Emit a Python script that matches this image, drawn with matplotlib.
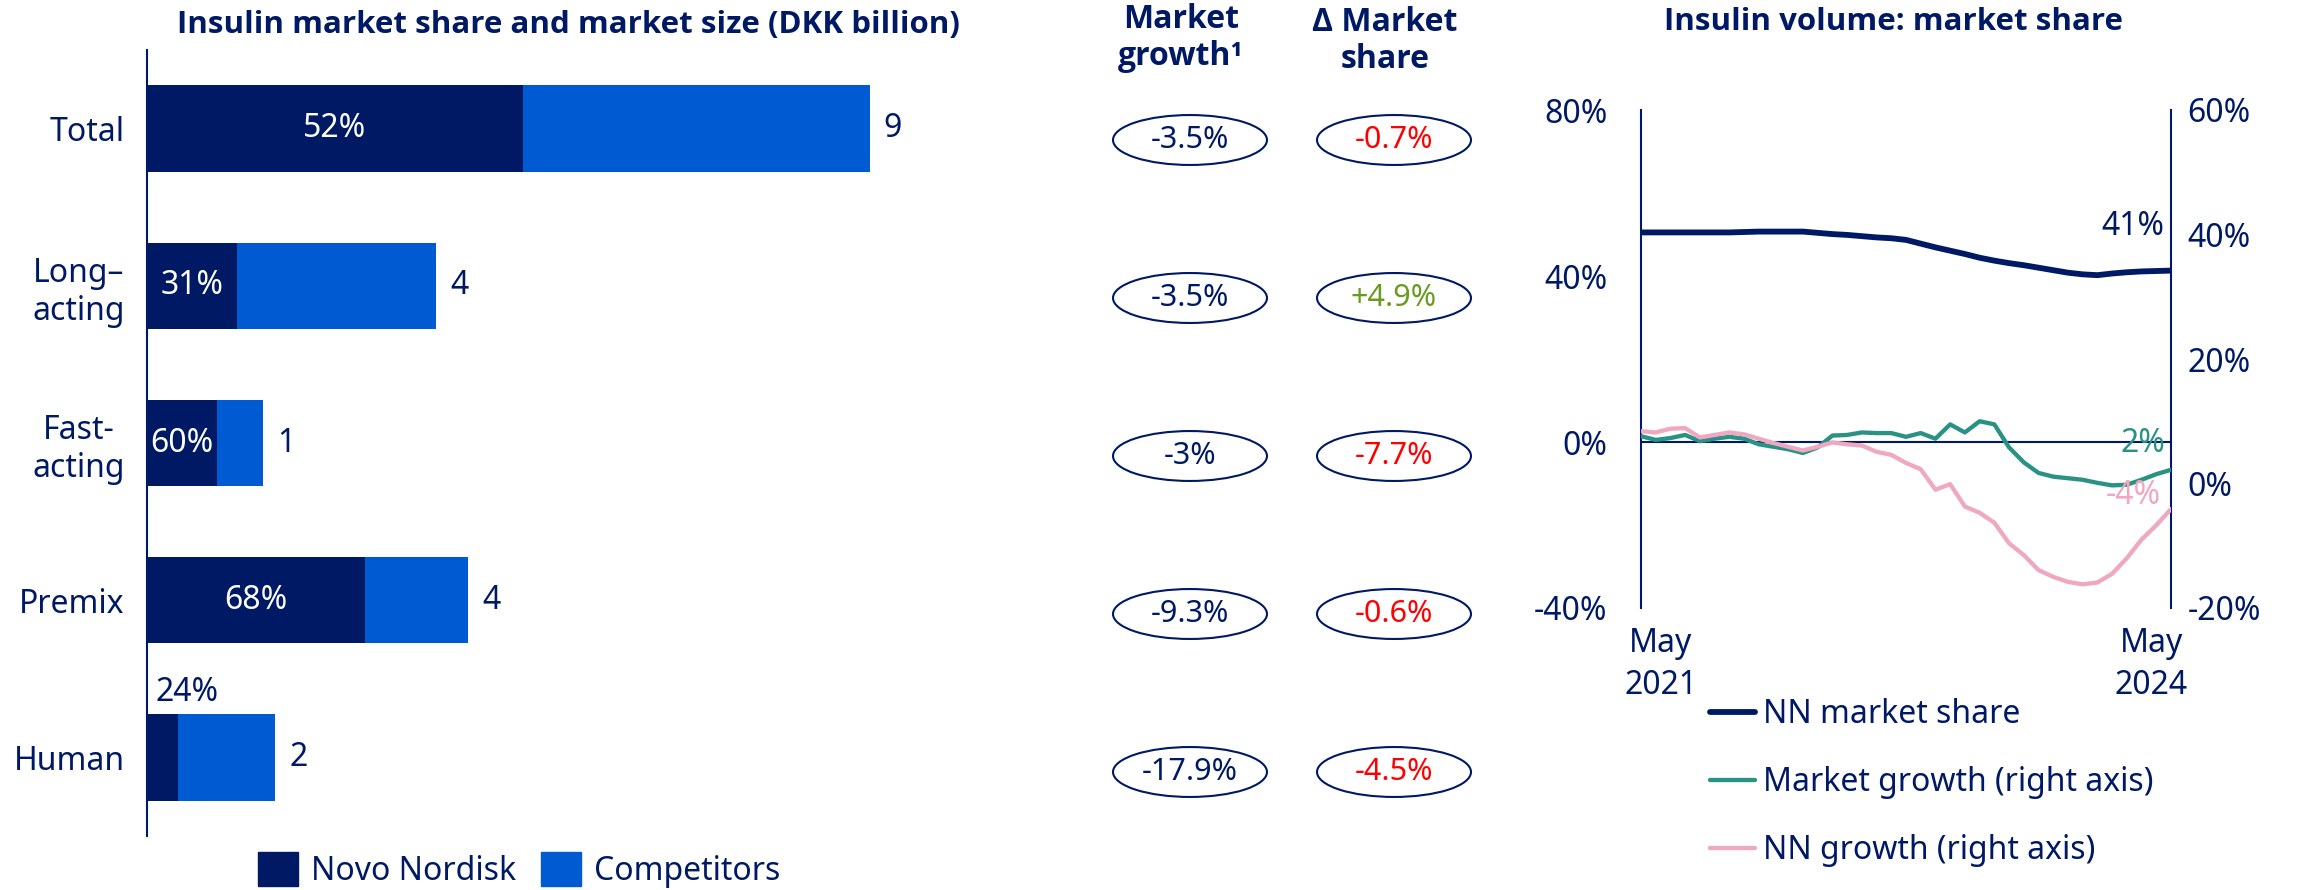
import numpy as np
import matplotlib
matplotlib.use("Agg")
import matplotlib.pyplot as plt
import matplotlib.transforms as mtransforms
from matplotlib import font_manager
from matplotlib.patches import Ellipse, Patch
from matplotlib.ticker import FuncFormatter

NAVY = "#001965"
BLUE = "#005ad2"
TEAL = "#2a9285"
PINK = "#f0a8c0"
RED = "#ff0000"
GREEN = "#6a9a1f"

plt.rcParams["font.family"] = ["Noto Sans", "DejaVu Sans"]
plt.rcParams["font.size"] = 23
plt.rcParams["text.color"] = NAVY

# Insulin segments: market size (DKK billion) and Novo Nordisk value share (%)
categories = ["Total", "Long–\nacting", "Fast-\nacting", "Premix", "Human"]
market_size = [9.0, 3.6, 1.45, 4.0, 1.6]
nn_share = [52, 31, 60, 68, 24]
market_growth = [-3.5, -3.5, -3.0, -9.3, -17.9]
delta_share = [-0.7, 4.9, -7.7, -0.6, -4.5]

# Monthly volume series, May 2021 - May 2024
month_labels = ["May\n2021", "May\n2024"]
nn_volume_share = [50.5, 50.5, 50.5, 50.5, 50.5, 50.5, 50.5, 50.6, 50.7, 50.7,
                   50.7, 50.7, 50.4, 50.1, 49.9, 49.6, 49.3, 49.1, 48.7, 47.8,
                   46.9, 46.1, 45.3, 44.4, 43.7, 43.1, 42.6, 42.0, 41.4, 40.8,
                   40.4, 40.2, 40.6, 40.9, 41.1, 41.2, 41.3]
volume_market_growth = [7.6, 7.0, 7.3, 7.8, 6.8, 7.2, 7.5, 7.2, 6.3, 5.9,
                        5.5, 4.9, 5.8, 7.7, 7.8, 8.2, 8.1, 8.1, 7.5, 8.1,
                        7.2, 9.5, 8.2, 10.0, 9.5, 5.8, 3.4, 1.7, 1.1, 0.85,
                        0.6, 0.1, -0.3, -0.2, 0.6, 1.5, 2.2]
nn_volume_growth = [8.4, 8.2, 8.8, 8.9, 7.4, 7.8, 8.2, 7.9, 7.2, 6.5,
                    5.9, 5.3, 5.9, 6.6, 6.3, 6.1, 5.1, 4.6, 3.3, 2.3,
                    -1.0, -0.1, -3.7, -4.7, -6.3, -9.6, -11.5, -13.9, -15.0, -15.8,
                    -16.2, -15.9, -14.5, -12.0, -9.0, -6.7, -4.1]


def bold_family(candidates):
    # first family that actually ships a bold face
    for name in candidates:
        for f in font_manager.fontManager.ttflist:
            w = f.weight
            if isinstance(w, str):
                w = font_manager.weight_dict.get(w, 400)
            if f.name == name and w >= 600:
                return name
    return "DejaVu Sans"


BOLD = [bold_family(["Noto Sans", "Open Sans", "Lato", "Roboto"]), "DejaVu Sans"]

W, H = 2302, 890
fig = plt.figure(figsize=(W / 100, H / 100), dpi=100)


def box(x0, y0, x1, y1):
    # pixel rectangle (top-left origin) -> figure fraction rect
    return [x0 / W, 1 - y1 / H, (x1 - x0) / W, (y1 - y0) / H]


# ---- left: stacked bars ----
ax = fig.add_axes(box(147, 50, 950, 836))
y = np.arange(len(categories))
nn_part = np.array(market_size) * np.array(nn_share) / 100
comp_part = np.array(market_size) - nn_part
ax.barh(y, nn_part, height=0.55, color=NAVY)
ax.barh(y, comp_part, left=nn_part, height=0.55, color=BLUE)
ax.set_xlim(0, 10)
ax.set_ylim(4.5, -0.5)
ax.set_xticks([])
ax.set_yticks(y)
ax.set_yticklabels(categories, multialignment="center")
ax.tick_params(axis="y", length=0, pad=16, labelcolor=NAVY)
for s in ["top", "right", "bottom"]:
    ax.spines[s].set_visible(False)
ax.spines["left"].set_color(NAVY)
ax.spines["left"].set_linewidth(1.5)

for i, (n, s, p) in enumerate(zip(nn_part, market_size, nn_share)):
    if n > 0.5:
        ax.text(n / 2, i, f"{p}%", color="white", ha="center", va="center")
    else:
        ax.annotate(f"{p}%", xy=(0, i - 0.275), xytext=(6, 4),
                    textcoords="offset points", ha="left", va="bottom")
    ax.annotate(f"{s:.0f}", xy=(s, i), xytext=(10, 0),
                textcoords="offset points", ha="left", va="center")

fig.legend([Patch(color=NAVY), Patch(color=BLUE)], ["Novo Nordisk", "Competitors"],
           loc="center left", bbox_to_anchor=(258 / W, 1 - 870 / H), ncol=2,
           frameon=False, handlelength=1.25, handleheight=1.25, handletextpad=0.4,
           columnspacing=0.8, borderpad=0, borderaxespad=0)

fig.text(568 / W, 1 - 25 / H, "Insulin market share and market size (DKK billion)",
         ha="center", va="center", weight="bold", family=BOLD, size=22.5)

# ---- middle: growth / share change ovals ----
axm = fig.add_axes(box(1100, 61, 1480, 851))
axm.set_xlim(0, 380)
axm.set_ylim(4.5, -0.5)
axm.axis("off")
for i, (g, d) in enumerate(zip(market_growth, delta_share)):
    for xc, txt, col in [(90, f"{g:g}%", NAVY),
                         (294, f"{d:+g}%", GREEN if d > 0 else RED)]:
        axm.add_patch(Ellipse((xc, i), 154, 0.316, fill=False,
                              edgecolor=NAVY, lw=1.5))
        axm.text(xc, i, txt, ha="center", va="center", color=col, size=22)

fig.text(1181 / W, 1 - 38 / H, "Market\ngrowth¹", ha="center", va="center",
         weight="bold", family=BOLD, size=23, linespacing=1.15)
fig.text(1385 / W, 1 - 41 / H, "Δ Market\nshare", ha="center", va="center",
         weight="bold", family=BOLD, size=23, linespacing=1.15)

# ---- right: volume share and growth lines ----
axr = fig.add_axes(box(1641, 110, 2171, 608))
x = np.arange(len(nn_volume_share))
l1, = axr.plot(x, nn_volume_share, color=NAVY, lw=4.2, solid_capstyle="round")
axr.axhline(0, color=NAVY, lw=1.5)
axr.set_xlim(0, len(x) - 1)
axr.set_ylim(-40, 80)
axr.set_yticks([80, 40, 0, -40])
axr.yaxis.set_major_formatter(FuncFormatter(lambda v, _: f"{v:.0f}%"))
axr.tick_params(axis="y", length=0, pad=24, labelcolor=NAVY)
axr.set_xticks([0, len(x) - 1])
axr.set_xticklabels(month_labels, linespacing=1.35)
axr.tick_params(axis="x", length=0, pad=14, labelcolor=NAVY)
for lab, dx in zip(axr.get_xticklabels(), [0.2, -0.2]):
    lab.set_transform(lab.get_transform()
                      + mtransforms.ScaledTranslation(dx, 0, fig.dpi_scale_trans))
for s in ["top", "bottom"]:
    axr.spines[s].set_visible(False)
for s in ["left", "right"]:
    axr.spines[s].set_color(NAVY)
    axr.spines[s].set_linewidth(1.5)

axr2 = axr.twinx()
l2, = axr2.plot(x, volume_market_growth, color=TEAL, lw=3.1, solid_capstyle="round")
l3, = axr2.plot(x, nn_volume_growth, color=PINK, lw=3.1, solid_capstyle="round")
axr2.set_ylim(-20, 60)
axr2.set_yticks([60, 40, 20, 0, -20])
axr2.yaxis.set_major_formatter(FuncFormatter(lambda v, _: f"{v:.0f}%"))
axr2.tick_params(axis="y", length=0, pad=12, labelcolor=NAVY)
for s in axr2.spines.values():
    s.set_visible(False)

axr.annotate(f"{nn_volume_share[-1]:.0f}%", xy=(x[-1], nn_volume_share[-1]),
             xytext=(-5, 32), textcoords="offset points", ha="right", va="center",
             color=NAVY)
axr2.annotate(f"{volume_market_growth[-1]:.0f}%", xy=(x[-1], volume_market_growth[-1]),
              xytext=(-4, 19), textcoords="offset points", ha="right", va="center",
              color=TEAL)
axr2.annotate(f"{nn_volume_growth[-1]:.0f}%", xy=(x[-1], nn_volume_growth[-1]),
              xytext=(-7, 10), textcoords="offset points", ha="right", va="center",
              color=PINK)

fig.legend([l1, l2, l3],
           ["NN market share", "Market growth (right axis)", "NN growth (right axis)"],
           loc="upper left", bbox_to_anchor=(1710 / W, 1 - 698 / H), frameon=False,
           handlelength=1.4, handletextpad=0.25, labelspacing=1.1,
           borderpad=0, borderaxespad=0)

fig.text(1894 / W, 1 - 22 / H, "Insulin volume: market share",
         ha="center", va="center", weight="bold", family=BOLD, size=22.5)

fig.savefig("out.png", dpi=100)
